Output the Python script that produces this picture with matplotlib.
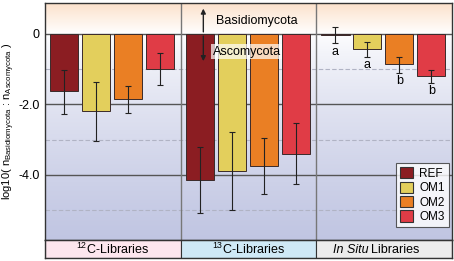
import matplotlib.pyplot as plt
from matplotlib.patches import Patch, Rectangle
from matplotlib.colors import to_rgb
import numpy as np

# datos
groups = ['$^{12}$C-Libraries', '$^{13}$C-Libraries', 'In Situ Libraries']
series = ['REF', 'OM1', 'OM2', 'OM3']
colors = ['#8b1d22', '#e3cf5c', '#ea7f24', '#e03c46']
values = [
    [-1.63, -2.19, -1.85, -1.0],     # 12C
    [-4.15, -3.89, -3.74, -3.40],    # 13C
    [-0.03, -0.43, -0.86, -1.19],    # in situ
]
err_low = [
    [-2.27, -3.04, -2.25, -1.45],
    [-5.09, -5.00, -4.53, -4.26],
    [-0.26, -0.64, -1.10, -1.38],
]
err_high = [
    [-1.02, -1.37, -1.47, -0.54],
    [-3.20, -2.77, -2.96, -2.52],
    [0.19, -0.22, -0.66, -1.02],
]
letters = ['a', 'a', 'b', 'b']
strip_colors = ['#fde6ee', '#cfe9f6', '#ececec']

plt.rcParams['font.family'] = ['Liberation Sans', 'DejaVu Sans']
plt.rcParams['mathtext.fontset'] = 'custom'
plt.rcParams['mathtext.rm'] = 'Liberation Sans'

fig = plt.figure(figsize=(4.54, 2.61), dpi=100)
ax = fig.add_axes([45 / 454, 21 / 261, 407 / 454, 237 / 261])
strip = fig.add_axes([45 / 454, 3 / 261, 407 / 454, 18 / 261])

gw = 4.25
ymin, ymax = -5.85, 0.88

# fondo degradado
yy = np.linspace(ymax, ymin, 300)
peach = np.array(to_rgb('#fce2cc'))
lav = np.array(to_rgb('#c0c5e2'))
white = np.ones(3)
img = np.zeros((300, 1, 3))
for i, v in enumerate(yy):
    if v > 0:
        t = v / ymax
        img[i, 0] = white * (1 - t) + peach * t
    else:
        t = min(1, (-v / -ymin) ** 0.7)
        img[i, 0] = white * (1 - t) + lav * t
ax.imshow(img, extent=[0, 3 * gw, ymin, ymax], aspect='auto', zorder=0)

for y in [-1, -3, -5]:
    ax.axhline(y, color='#b0b3c4', lw=0.8, ls=(0, (4, 2)), zorder=1)
for y in [0, -2, -4]:
    ax.axhline(y, color='#555555', lw=1.0, zorder=1)
for g in [1, 2]:
    ax.axvline(g * gw, color='#777777', lw=1.0, zorder=1)

for g in range(3):
    for j in range(4):
        x = g * gw + 0.6 + j
        v = values[g][j]
        ax.bar(x, v, width=0.88, color=colors[j], edgecolor='#3a2a2a', lw=0.7, zorder=2)
        lo, hi = err_low[g][j], err_high[g][j]
        mid = (lo + hi) / 2
        ax.errorbar(x, mid, yerr=[[mid - lo], [hi - mid]], fmt='none', ecolor='#222222',
                    elinewidth=0.8, capsize=2, capthick=0.8, zorder=3)
        if g == 2:
            ax.text(x, lo - 0.07, letters[j], ha='center', va='top', fontsize=9, zorder=4)

# flecha basidio / asco
ax.annotate('', xy=(4.96, 0.8), xytext=(4.96, -0.02),
            arrowprops=dict(arrowstyle='-|>', color='#222222', lw=1.0, mutation_scale=7), zorder=5)
ax.annotate('', xy=(4.96, -0.85), xytext=(4.96, 0.02),
            arrowprops=dict(arrowstyle='-|>', color='#222222', lw=1.0, mutation_scale=7), zorder=5)
ax.text(5.35, 0.38, 'Basidiomycota', fontsize=9, va='center', ha='left', zorder=5)
ax.text(5.25, -0.5, 'Ascomycota', fontsize=9, va='center', ha='left', zorder=5,
        bbox=dict(boxstyle='square,pad=0.1', fc='white', ec='none', alpha=0.7))

ax.set_xlim(0, 3 * gw)
ax.set_ylim(ymin, ymax)
ax.set_xticks([])
ax.set_yticks([0, -2, -4])
ax.set_yticklabels(['0', '-2.0', '-4.0'], fontsize=9)
ax.tick_params(axis='y', length=0, pad=4)
ax.set_ylabel(r'log10( n$_{\mathrm{Basidiomycota}}$ : n$_{\mathrm{Ascomycota}}$ )', fontsize=8)
ax.yaxis.set_label_coords(-0.068, 0.5)
for s in ax.spines.values():
    s.set_color('#333333')
    s.set_linewidth(1.0)

handles = [Patch(facecolor=c, edgecolor='#333333', lw=0.8, label=s) for c, s in zip(colors, series)]
leg = ax.legend(handles=handles, loc='upper left', bbox_to_anchor=(0.848, 0.35), fontsize=8.5,
                frameon=True, fancybox=False, edgecolor='#333333', handlelength=1.1, handleheight=1.1,
                handletextpad=0.5, labelspacing=0.15, borderpad=0.35)
leg.get_frame().set_linewidth(0.8)
leg.set_zorder(6)

# franja de categorias
strip.set_xlim(0, 3 * gw)
strip.set_ylim(0, 1)
for g in range(3):
    strip.add_patch(Rectangle((g * gw, 0), gw, 1, facecolor=strip_colors[g], edgecolor='#333333', lw=0.8))
strip.text(0.5 * gw, 0.45, groups[0], ha='center', va='center', fontsize=9)
strip.text(1.5 * gw, 0.45, groups[1], ha='center', va='center', fontsize=9)
strip.text(2.5 * gw - 0.5, 0.45, 'In Situ', ha='right', va='center', fontsize=9, style='italic')
strip.text(2.5 * gw - 0.42, 0.45, 'Libraries', ha='left', va='center', fontsize=9)
strip.set_xticks([])
strip.set_yticks([])
for s in strip.spines.values():
    s.set_color('#333333')
    s.set_linewidth(1.0)

fig.savefig('out.png', dpi=100)
